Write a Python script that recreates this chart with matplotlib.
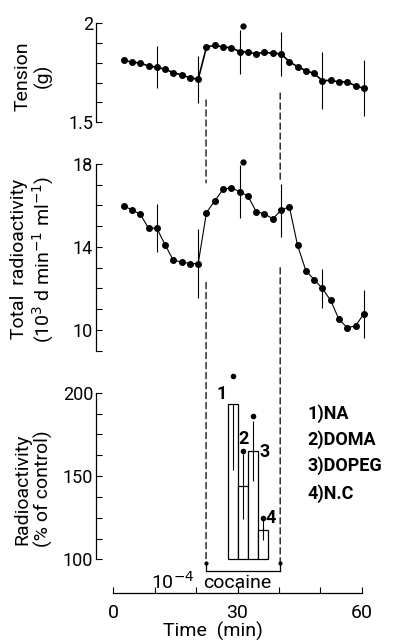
import matplotlib
matplotlib.use("Agg")
import matplotlib.pyplot as plt
from matplotlib.patches import ConnectionPatch

plt.rcParams['font.family'] = ['Roboto', 'DejaVu Sans']

# --- data ---
time = [2.5, 4.5, 6.5, 8.5, 10.5, 12.5, 14.5, 16.5, 18.5, 20.5,
        22.5, 24.5, 26.5, 28.5, 30.5, 32.5, 34.5, 36.5, 38.5, 40.5,
        42.5, 44.5, 46.5, 48.5, 50.5, 52.5, 54.5, 56.5, 58.5, 60.5]
tension = [1.815, 1.803, 1.800, 1.784, 1.778, 1.768, 1.751, 1.739, 1.725, 1.717,
           1.880, 1.889, 1.880, 1.877, 1.857, 1.855, 1.846, 1.854, 1.848, 1.846,
           1.806, 1.781, 1.761, 1.747, 1.710, 1.712, 1.704, 1.704, 1.684, 1.672]
radio = [15.98, 15.79, 15.58, 14.91, 14.91, 14.11, 13.36, 13.28, 13.20, 13.20,
         15.66, 16.22, 16.78, 16.86, 16.67, 16.46, 15.71, 15.60, 15.36, 15.76,
         15.95, 14.08, 12.86, 12.43, 12.00, 11.42, 10.51, 10.11, 10.19, 10.78]

se_idx = [4, 9, 14, 19, 24, 29]
tension_se = [0.105, 0.12, 0.111, 0.11, 0.143, 0.142]
radio_se = [1.14, 1.66, 1.28, 1.28, 0.95, 1.16]

sig_time = 31.3
tension_sig = 1.988
radio_sig = 18.08

bar_names = ['1', '2', '3', '4']
bar_centers = [28.9, 31.4, 33.8, 36.2]
bar_vals = [193.5, 143.8, 165.0, 117.6]
bar_se_lo = [40.0, 19.5, 18.0, 6.0]
bar_se_hi = [0.0, 19.5, 18.0, 6.0]
bar_sig = [210.0, 165.0, 186.0, 125.0]
legend_lines = ['1)NA', '2)DOMA', '3)DOPEG', '4)N.C']

cocaine_on, cocaine_off = 22.4, 40.3

# --- layout (pixel based, fig 394x643) ---
W, H = 394, 643
fig = plt.figure(figsize=(W / 100, H / 100), dpi=100)

def box(top, bottom):
    return [96 / W, (H - bottom) / H, 282.3 / W, (bottom - top) / H]

ax1 = fig.add_axes(box(23.3, 122.3))
ax2 = fig.add_axes(box(164, 350.7))
ax3 = fig.add_axes(box(392.7, 593))

for ax in (ax1, ax2, ax3):
    ax.set_xlim(-4.18, 64)
    ax.spines['top'].set_visible(False)
    ax.spines['right'].set_visible(False)
    ax.tick_params(axis='y', direction='in', length=4, width=0.8, pad=2, labelsize=13)
    ax.spines['left'].set_linewidth(0.9)
for ax in (ax1, ax2):
    ax.spines['bottom'].set_visible(False)
    ax.set_xticks([])

# top panel: tension
ax1.set_ylim(1.5, 2.0)
ax1.set_yticks([1.5, 1.6, 1.7, 1.8, 1.9, 2.0])
ax1.set_yticklabels(['1.5', '', '', '', '', '2'])
ax1.plot(time, tension, '-o', color='k', lw=1.2, ms=4)
ax1.errorbar([time[i] for i in se_idx], [tension[i] for i in se_idx], yerr=tension_se,
             fmt='none', ecolor='k', elinewidth=0.8, capsize=0)
ax1.plot([sig_time], [tension_sig], 'o', color='k', ms=3.5, clip_on=False)

# middle panel: total radioactivity
ax2.set_ylim(9, 18)
ax2.set_yticks(range(9, 19))
ax2.set_yticklabels(['' if v not in (10, 14, 18) else str(v) for v in range(9, 19)])
ax2.plot(time, radio, '-o', color='k', lw=0.8, ms=4)
ax2.errorbar([time[i] for i in se_idx], [radio[i] for i in se_idx], yerr=radio_se,
             fmt='none', ecolor='k', elinewidth=0.8, capsize=0)
ax2.plot([sig_time], [radio_sig], 'o', color='k', ms=3.5, clip_on=False)

# bottom panel: metabolites
ax3.set_ylim(79.8, 200)
ax3.spines['left'].set_bounds(100, 200)
ax3.spines['bottom'].set_bounds(0, 60)
ax3.spines['bottom'].set_linewidth(0.9)
yt = [100 + 12.5 * i for i in range(9)]
ax3.set_yticks(yt)
ax3.set_yticklabels(['100' if v == 100 else '150' if v == 150 else '200' if v == 200 else '' for v in yt])
ax3.set_xticks([0, 10, 20, 30, 40, 50, 60])
ax3.set_xticklabels(['0', '', '', '30', '', '', '60'])
ax3.tick_params(axis='x', direction='in', length=4, width=0.8, pad=8, labelsize=14)

ax3.bar(bar_centers, [v - 100 for v in bar_vals], bottom=100, width=2.42,
        facecolor='white', edgecolor='k', linewidth=0.9)
ax3.errorbar(bar_centers, bar_vals, yerr=[bar_se_lo, bar_se_hi],
             fmt='none', ecolor='k', elinewidth=0.8, capsize=0)
ax3.plot(bar_centers, bar_sig, 'o', color='k', ms=3, clip_on=False, ls='none')

lab_pos = [(26.2, 199.5), (31.4, 172.0), (36.6, 164.5), (37.9, 125.0)]
for name, (x, y) in zip(bar_names, lab_pos):
    ax3.text(x, y, name, ha='center', va='center', fontsize=13, fontweight='bold', clip_on=False)

for i, txt in enumerate(legend_lines):
    ax3.text(46.8, [187.6, 171.6, 156.0, 139.6][i], txt, ha='left', va='center',
             fontsize=13, fontweight='bold')

# cocaine bracket + dashed lines
for t in (cocaine_on, cocaine_off):
    ax3.plot([t, t, ], [97.8, 93.0], color='k', lw=0.9, clip_on=False)
    ax3.plot([t], [97.8], 'o', color='k', ms=2, clip_on=False)
ax3.plot([cocaine_on, cocaine_off], [93.0, 93.0], color='k', lw=0.9, clip_on=False)
ax3.text(30.0, 86.0, 'cocaine', ha='center', va='center', fontsize=14)
ax3.text(14.3, 86.6, r'10$^{-4}$', ha='center', va='center', fontsize=14)

dash = dict(color='k', lw=0.9, linestyle=(0, (5, 3)))
segments = [
    (cocaine_on, ax1, 1.613, ax2, 17.09),
    (cocaine_on, ax2, 12.29, ax3, 97.8),
    (cocaine_off, ax1, 1.648, ax2, 17.09),
    (cocaine_off, ax2, 13.0, ax3, 97.8),
]
for t, axa, ya, axb, yb in segments:
    con = ConnectionPatch(xyA=(t, ya), coordsA=axa.transData,
                          xyB=(t, yb), coordsB=axb.transData, **dash)
    fig.add_artist(con)

# axis labels
def ylab(ax, text, yfrac):
    ax.text(-0.222, yfrac, text, transform=ax.transAxes, rotation=90,
            ha='center', va='center', multialignment='center', fontsize=14,
            linespacing=1.15)

ylab(ax1, 'Tension\n(g)', 0.47)
ylab(ax2, 'Total  radioactivity\n' + r'(10$^3$ d min$^{-1}$ ml$^{-1}$)', 0.49)
ylab(ax3, 'Radioactivity\n(% of control)', 0.52)

ax3.set_xlabel('Time  (min)', fontsize=14)
ax3.xaxis.set_label_coords(0.413, -0.145)

fig.savefig('out.png', dpi=100)
